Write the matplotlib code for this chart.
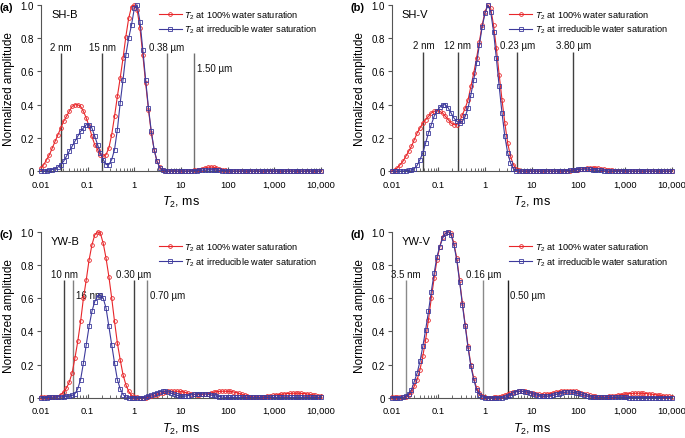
import numpy as np
import matplotlib
matplotlib.use("Agg")
import matplotlib.pyplot as plt
from matplotlib.ticker import FixedLocator, LogLocator, NullFormatter

plt.rcParams["font.family"] = ["Liberation Sans", "DejaVu Sans"]
plt.rcParams["mathtext.fontset"] = "custom"
plt.rcParams["mathtext.rm"] = "Liberation Sans"
plt.rcParams["mathtext.it"] = "Liberation Sans:italic"

# T2 bins (ms), 100 log-spaced bins from 0.01 to 10,000 ms
t2 = np.logspace(-2, 4, 100)

# (a) SH-B
sh_b_100 = [
    0.02, 0.04, 0.07, 0.10, 0.14, 0.18, 0.22, 0.26, 0.30, 0.33,
    0.36, 0.39, 0.40, 0.40, 0.39, 0.36, 0.32, 0.27, 0.21, 0.16,
    0.13, 0.10, 0.09, 0.10, 0.14, 0.22, 0.33, 0.45, 0.56, 0.68,
    0.81, 0.92, 0.99, 1.00, 0.97, 0.86, 0.70, 0.53, 0.37, 0.23,
    0.13, 0.06, 0.025, 0.01, 0.004, 0.002, 0.001, 0.001, 0.001, 0.001,
    0.001, 0.001, 0.002, 0.003, 0.005, 0.007, 0.010, 0.015, 0.020, 0.024,
    0.025, 0.024, 0.020, 0.015, 0.010, 0.006, 0.003, 0.002, 0.001, 0.001,
    0.001, 0.001, 0.001, 0.001, 0.001, 0.001, 0.001, 0.001, 0.001, 0.001,
    0.001, 0.001, 0.001, 0.001, 0.001, 0.001, 0.001, 0.001, 0.001, 0.001,
    0.001, 0.001, 0.001, 0.001, 0.001, 0.001, 0.001, 0.001, 0.001, 0.001,
]
sh_b_irr = [
    0.0, 0.002, 0.004, 0.007, 0.010, 0.015, 0.025, 0.04, 0.06, 0.09,
    0.12, 0.15, 0.18, 0.21, 0.24, 0.26, 0.28, 0.28, 0.26, 0.21,
    0.16, 0.11, 0.07, 0.04, 0.04, 0.07, 0.13, 0.25, 0.41, 0.55,
    0.70, 0.80, 0.88, 0.98, 1.00, 0.90, 0.73, 0.55, 0.38, 0.24,
    0.13, 0.06, 0.02, 0.005, 0.002, 0.001, 0.001, 0.001, 0.001, 0.001,
    0.001, 0.001, 0.001, 0.002, 0.003, 0.004, 0.005, 0.006, 0.007, 0.008,
    0.008, 0.008, 0.007, 0.005, 0.004, 0.003, 0.002, 0.001, 0.001, 0.001,
    0.001, 0.001, 0.001, 0.001, 0.001, 0.001, 0.001, 0.001, 0.001, 0.001,
    0.001, 0.001, 0.001, 0.001, 0.001, 0.001, 0.001, 0.001, 0.001, 0.001,
    0.001, 0.001, 0.001, 0.001, 0.001, 0.001, 0.001, 0.001, 0.001, 0.001,
]

# (b) SH-V
sh_v_100 = [
    0.0, 0.01, 0.02, 0.04, 0.06, 0.09, 0.12, 0.15, 0.19, 0.23,
    0.26, 0.29, 0.31, 0.33, 0.35, 0.36, 0.365, 0.36, 0.35, 0.33,
    0.31, 0.29, 0.28, 0.28, 0.30, 0.34, 0.38, 0.43, 0.51, 0.59,
    0.68, 0.78, 0.88, 0.96, 1.00, 0.98, 0.88, 0.74, 0.58, 0.43,
    0.29, 0.17, 0.09, 0.04, 0.015, 0.005, 0.002, 0.001, 0.001, 0.001,
    0.001, 0.001, 0.001, 0.001, 0.001, 0.001, 0.001, 0.001, 0.001, 0.001,
    0.001, 0.001, 0.002, 0.003, 0.005, 0.007, 0.010, 0.012, 0.015, 0.018,
    0.020, 0.021, 0.020, 0.018, 0.016, 0.013, 0.010, 0.008, 0.006, 0.004,
    0.003, 0.002, 0.001, 0.001, 0.001, 0.001, 0.001, 0.001, 0.001, 0.001,
    0.001, 0.001, 0.001, 0.001, 0.001, 0.001, 0.001, 0.001, 0.001, 0.001,
]
sh_v_irr = [
    0.0, 0.0, 0.0, 0.001, 0.002, 0.003, 0.005, 0.008, 0.015, 0.035,
    0.07, 0.11, 0.17, 0.23, 0.28, 0.33, 0.36, 0.385, 0.40, 0.40,
    0.38, 0.35, 0.32, 0.30, 0.29, 0.30, 0.33, 0.38, 0.46, 0.55,
    0.65, 0.76, 0.87, 0.95, 1.00, 0.96, 0.84, 0.68, 0.51, 0.35,
    0.21, 0.11, 0.05, 0.015, 0.004, 0.001, 0.001, 0.001, 0.001, 0.001,
    0.001, 0.001, 0.001, 0.001, 0.001, 0.001, 0.001, 0.001, 0.001, 0.001,
    0.001, 0.002, 0.003, 0.005, 0.007, 0.009, 0.011, 0.012, 0.012, 0.012,
    0.011, 0.010, 0.008, 0.006, 0.005, 0.003, 0.002, 0.001, 0.001, 0.001,
    0.001, 0.001, 0.001, 0.001, 0.001, 0.001, 0.001, 0.001, 0.001, 0.001,
    0.001, 0.001, 0.001, 0.001, 0.001, 0.001, 0.001, 0.001, 0.001, 0.001,
]

# (c) YW-B
yw_b_100 = [
    0.005, 0.005, 0.005, 0.005, 0.005, 0.005, 0.008, 0.02, 0.035, 0.06,
    0.095, 0.15, 0.24, 0.34, 0.46, 0.60, 0.71, 0.83, 0.92, 0.98,
    1.00, 0.99, 0.93, 0.84, 0.73, 0.60, 0.46, 0.33, 0.23, 0.14,
    0.08, 0.04, 0.015, 0.005, 0.003, 0.002, 0.002, 0.002, 0.004, 0.010,
    0.015, 0.020, 0.027, 0.032, 0.036, 0.039, 0.040, 0.040, 0.040, 0.039,
    0.037, 0.033, 0.028, 0.024, 0.021, 0.020, 0.020, 0.021, 0.023, 0.026,
    0.030, 0.034, 0.037, 0.039, 0.040, 0.040, 0.040, 0.039, 0.036, 0.032,
    0.027, 0.022, 0.017, 0.012, 0.008, 0.006, 0.005, 0.005, 0.006, 0.008,
    0.010, 0.012, 0.015, 0.018, 0.020, 0.022, 0.024, 0.026, 0.027, 0.028,
    0.028, 0.028, 0.027, 0.026, 0.024, 0.021, 0.018, 0.015, 0.012, 0.009,
]
yw_b_irr = [
    0.002, 0.002, 0.002, 0.003, 0.004, 0.005, 0.006, 0.007, 0.008, 0.010,
    0.012, 0.015, 0.025, 0.055, 0.11, 0.21, 0.32, 0.43, 0.52, 0.58,
    0.61, 0.62, 0.60, 0.54, 0.43, 0.32, 0.21, 0.11, 0.055, 0.02,
    0.005, 0.001, 0.001, 0.001, 0.001, 0.001, 0.002, 0.005, 0.010, 0.017,
    0.025, 0.032, 0.037, 0.040, 0.039, 0.035, 0.029, 0.022, 0.016, 0.012,
    0.010, 0.011, 0.014, 0.018, 0.021, 0.024, 0.025, 0.025, 0.024, 0.022,
    0.019, 0.015, 0.011, 0.008, 0.005, 0.003, 0.003, 0.003, 0.003, 0.003,
    0.003, 0.003, 0.003, 0.003, 0.003, 0.003, 0.003, 0.003, 0.003, 0.003,
    0.003, 0.003, 0.003, 0.003, 0.003, 0.003, 0.003, 0.003, 0.003, 0.003,
    0.003, 0.003, 0.003, 0.003, 0.003, 0.003, 0.003, 0.003, 0.003, 0.003,
]

# (d) YW-V
yw_v_100 = [
    0.005, 0.005, 0.005, 0.004, 0.003, 0.005, 0.015, 0.035, 0.07, 0.11,
    0.17, 0.25, 0.35, 0.47, 0.60, 0.72, 0.83, 0.91, 0.97, 0.99,
    1.00, 0.99, 0.93, 0.84, 0.71, 0.57, 0.44, 0.31, 0.20, 0.12,
    0.06, 0.03, 0.012, 0.004, 0.002, 0.002, 0.003, 0.005, 0.008, 0.012,
    0.017, 0.023, 0.029, 0.034, 0.038, 0.040, 0.040, 0.039, 0.036, 0.032,
    0.027, 0.023, 0.021, 0.020, 0.021, 0.023, 0.026, 0.030, 0.034, 0.038,
    0.041, 0.043, 0.044, 0.044, 0.043, 0.040, 0.036, 0.031, 0.026, 0.021,
    0.016, 0.012, 0.009, 0.007, 0.006, 0.006, 0.007, 0.009, 0.011, 0.014,
    0.017, 0.020, 0.022, 0.024, 0.026, 0.027, 0.028, 0.028, 0.028, 0.027,
    0.026, 0.024, 0.022, 0.020, 0.017, 0.015, 0.012, 0.010, 0.009, 0.008,
]
yw_v_irr = [
    0.002, 0.002, 0.002, 0.002, 0.003, 0.010, 0.025, 0.05, 0.10, 0.15,
    0.22, 0.31, 0.41, 0.52, 0.64, 0.75, 0.85, 0.91, 0.96, 0.99,
    1.00, 0.98, 0.92, 0.83, 0.70, 0.56, 0.43, 0.30, 0.19, 0.11,
    0.05, 0.02, 0.006, 0.002, 0.001, 0.001, 0.001, 0.001, 0.001, 0.001,
    0.004, 0.010, 0.020, 0.030, 0.037, 0.040, 0.040, 0.038, 0.034, 0.029,
    0.023, 0.018, 0.014, 0.011, 0.010, 0.011, 0.013, 0.017, 0.021, 0.026,
    0.030, 0.033, 0.035, 0.035, 0.034, 0.031, 0.027, 0.022, 0.017, 0.012,
    0.008, 0.005, 0.003, 0.003, 0.003, 0.003, 0.003, 0.003, 0.003, 0.003,
    0.003, 0.003, 0.003, 0.003, 0.002, 0.002, 0.002, 0.002, 0.002, 0.002,
    0.002, 0.002, 0.002, 0.002, 0.002, 0.002, 0.002, 0.002, 0.002, 0.002,
]

# pore-size cut-off lines: T2 position (ms), label, label style
cut_a = [(0.027, "2 nm", "top"), (0.206, "15 nm", "top"), (4.93, "0.38 µm", "top"), (19.3, "1.50 µm", "side")]
cut_b = [(0.048, "2 nm", "top"), (0.26, "12 nm", "top"), (4.9, "0.23 µm", "top"), (78.0, "3.80 µm", "top")]
cut_c = [(0.0315, "10 nm", "top"), (0.049, "16 nm", "side"), (0.98, "0.30 µm", "top"), (1.9, "0.70 µm", "side")]
cut_d = [(0.0202, "3.5 nm", "top"), (0.918, "0.16 µm", "top"), (3.06, "0.50 µm", "side")]
cut_colors = {
    "a": ["#404040", "#404040", "#707070", "#707070"],
    "b": ["#404040", "#404040", "#404040", "#404040"],
    "c": ["#404040", "#808080", "#404040", "#808080"],
    "d": ["#8a8a8a", "#8a8a8a", "#202020"],
}

xtick_vals = [0.01, 0.1, 1, 10, 100, 1000, 10000]
xtick_labels = ["0.01", "0.1", "1", "10", "100", "1,000", "10,000"]

RED = "#e8262a"
BLUE = "#3d3a9c"
AXC = "#555555"

panels = [
    ("a", "SH-B", sh_b_100, sh_b_irr, cut_a, 0.71, [41, 6]),
    ("b", "SH-V", sh_v_100, sh_v_irr, cut_b, 0.72, [391.7, 6]),
    ("c", "YW-B", yw_b_100, yw_b_irr, cut_c, 0.71, [41, 232.7]),
    ("d", "YW-V", yw_v_100, yw_v_irr, cut_d, 0.71, [391.7, 232.7]),
]

W, H = 685, 439
fig = plt.figure(figsize=(W / 100, H / 100), dpi=100)
aw, ah = 280.0, 166.2

for key, name, y100, yirr, cuts, lh, (px, py) in panels:
    ax = fig.add_axes([px / W, 1 - (py + ah) / H, aw / W, ah / H])
    ax.set_xscale("log")
    ax.set_xlim(0.01, 10000)
    ax.set_ylim(0, 1.0)

    for (xv, lab, style), col in zip(cuts, cut_colors[key]):
        ax.vlines(xv, 0, lh, color=col, lw=1.0, zorder=1)
        if style == "top":
            ax.text(xv, lh + 0.008, lab, ha="center", va="bottom", fontsize=7, color="#111111")
        else:
            ax.text(xv * 1.12, lh - 0.09, lab, ha="left", va="center", fontsize=7, color="#111111")

    ax.plot(t2, y100, color=RED, lw=0.8, marker="o", ms=2.7, mew=0.6, mfc="none",
            clip_on=False, zorder=3, label="$T_2$ at 100% water saturation")
    ax.plot(t2, yirr, color=BLUE, lw=0.8, marker="s", ms=2.5, mew=0.6, mfc="none",
            clip_on=False, zorder=4, label="$T_2$ at irreducible water saturation")

    for s in ["top", "right"]:
        ax.spines[s].set_visible(False)
    for s in ["left", "bottom"]:
        ax.spines[s].set_color(AXC)
        ax.spines[s].set_linewidth(0.8)

    ax.xaxis.set_major_locator(FixedLocator(xtick_vals))
    ax.set_xticklabels(xtick_labels)
    ax.xaxis.set_minor_locator(LogLocator(base=10, subs=np.arange(2, 10), numticks=20))
    ax.xaxis.set_minor_formatter(NullFormatter())
    ax.set_yticks([0, 0.2, 0.4, 0.6, 0.8, 1.0])
    ax.set_yticklabels(["0", "0.2", "0.4", "0.6", "0.8", "1.0"])
    ax.tick_params(axis="x", which="major", direction="in", length=3, color=AXC, labelsize=6.7, pad=6)
    ax.tick_params(axis="x", which="minor", direction="in", length=2, color=AXC)
    ax.tick_params(axis="y", direction="out", length=3, color=AXC, labelsize=7, pad=2)

    ax.set_xlabel("$T_2$, ms", fontsize=9, labelpad=4)
    ax.set_ylabel("Normalized amplitude", fontsize=8.5, labelpad=4)

    ax.text(0.036, 0.945, name, transform=ax.transAxes, fontsize=8, ha="left", va="center")
    fig.text((px - 41) / W + 0.0, 1 - (py + 2) / H, "(" + key + ")", fontsize=8,
             fontweight="bold", ha="left", va="center")

    leg_y = 1.02 if key in "ab" else 0.985
    ax.legend(loc="upper right", bbox_to_anchor=(1.01, leg_y), frameon=False, fontsize=6.6,
              handlelength=2.5, handletextpad=0.3, labelspacing=0.25, borderpad=0.2,
              markerscale=1.0, numpoints=1)

fig.savefig("out.png", dpi=100)
